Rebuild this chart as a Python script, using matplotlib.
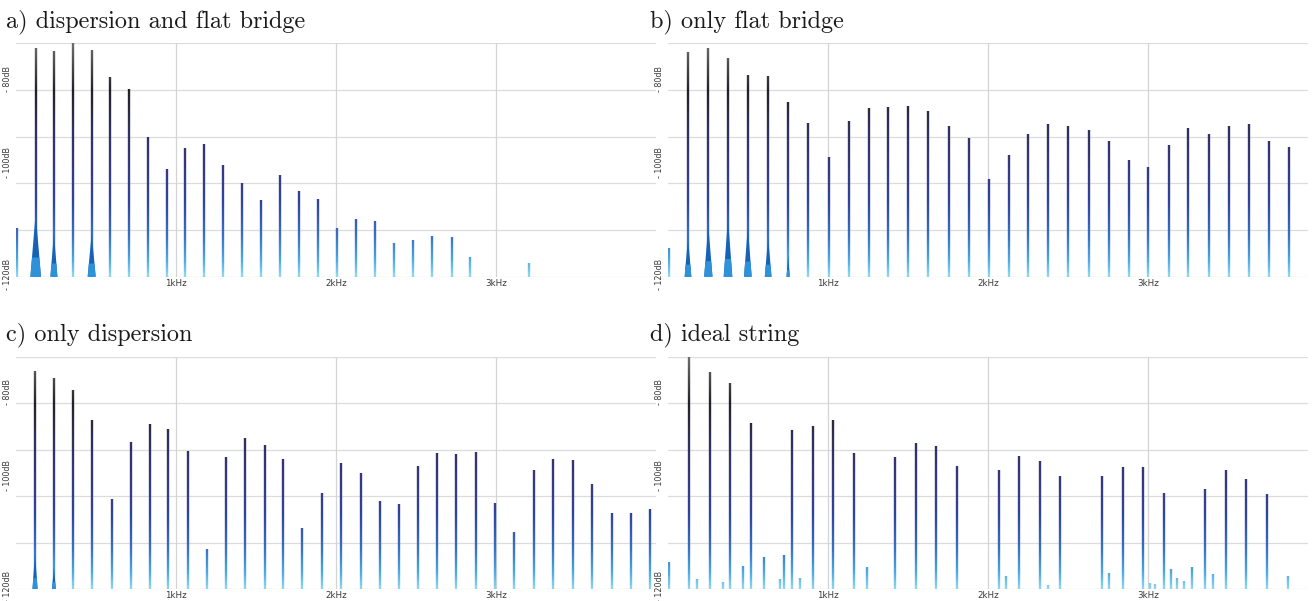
import numpy as np
import matplotlib.pyplot as plt
from matplotlib.collections import LineCollection
from matplotlib.colors import LinearSegmentedColormap, Normalize

# peak frequencies (Hz) and peak levels (dB)
freq_a = [5, 123, 237, 354, 473, 589, 707, 824, 943, 1059, 1178, 1294, 1413, 1531,
          1650, 1768, 1887, 2006, 2127, 2245, 2364, 2483, 2601, 2722, 2840, 3204]
level_a = [-109.5, -71, -71.6, -69, -71.4, -77.3, -79.8, -90, -96.9, -92.4, -91.6, -96,
           -99.9, -103.5, -98.2, -101.7, -103.4, -109.6, -107.6, -108.1, -112.8, -112.1,
           -111.2, -111.5, -115.7, -117.1]

freq_b = [5, 125, 252, 375, 499, 626, 751, 878, 1005, 1130, 1255, 1378, 1503, 1627, 1754,
          1879, 2004, 2131, 2253, 2378, 2503, 2630, 2755, 2880, 3003, 3130, 3252, 3379,
          3504, 3631, 3756, 3881]
level_b = [-113.8, -71.8, -71, -73.2, -76.7, -77, -82.5, -87.1, -94.4, -86.6, -83.9, -83.7,
           -83.5, -84.4, -87.7, -90.3, -99, -93.9, -89.4, -87.3, -87.8, -88.5, -91, -95,
           -96.4, -91.7, -88.2, -89.4, -87.7, -87.2, -91, -92.3]

freq_c = [119, 237, 358, 476, 597, 716, 835, 953, 1076, 1194, 1313, 1434, 1554, 1671,
          1790, 1912, 2033, 2154, 2272, 2393, 2511, 2632, 2753, 2873, 2994, 3115, 3235,
          3358, 3479, 3602, 3722, 3843, 3964]
level_c = [-73, -74.6, -77.1, -83.6, -100.6, -88.4, -84.5, -85.6, -90.3, -111.4, -91.5,
           -87.5, -89, -92, -106.8, -99.4, -92.9, -95, -101, -101.7, -93.6, -90.8, -91,
           -90.5, -101.4, -107.7, -94.3, -92, -92.3, -97.4, -103.5, -103.5, -102.8]

freq_d = [6, 133, 179, 262, 341, 387, 470, 518, 601, 699, 728, 778, 824, 905, 1034, 1163,
          1244, 1421, 1548, 1677, 1808, 2066, 2114, 2193, 2322, 2374, 2451, 2711, 2759,
          2842, 2969, 3015, 3046, 3098, 3146, 3179, 3227, 3273, 3356, 3404, 3485, 3612,
          3741, 3872]
level_d = [-114.2, -69.5, -117.8, -73.2, -118.4, -75.6, -115, -84.2, -113.1, -117.8,
           -112.6, -85.7, -117.5, -85, -83.6, -90.8, -115.1, -91.6, -88.5, -89.2, -93.6,
           -94.3, -117.1, -91.3, -92.4, -119, -95.6, -95.6, -116.6, -93.8, -93.8, -118.6,
           -118.9, -99.4, -115.7, -117.6, -118.2, -115.3, -98.5, -116.7, -94.3, -96.3,
           -99.5, -117.1]

# spectral "skirts" at the base of the strongest low partials: centre Hz, apex dB, half width Hz
skirt_a = [(123, -106.3, 33), (237, -110.6, 22), (473, -110.6, 25)]
skirt_b = [(125, -111.4, 21), (252, -108.9, 26), (375, -107.4, 27), (499, -109.2, 24),
           (626, -111.4, 21), (751, -115.3, 10)]
skirt_c = [(119, -112, 16), (237, -115, 12)]
skirt_d = []

titles = ["a) dispersion and flat bridge", "b) only flat bridge",
          "c) only dispersion", "d) ideal string"]

W, H = 1313, 601
fig = plt.figure(figsize=(W / 100, H / 100), dpi=100)

cmap = LinearSegmentedColormap.from_list("spec", [
    (0.00, "#92d6f2"),
    (0.07, "#4eaae2"),
    (0.17, "#3a72c6"),
    (0.32, "#30449c"),
    (0.48, "#37377e"),
    (0.64, "#30305a"),
    (0.80, "#22222a"),
    (1.00, "#6c6c6c"),
])
norm = Normalize(-120, -70)


def add_axes(x0, y0, x1, y1):
    return fig.add_axes([x0 / W, 1 - y1 / H, (x1 - x0) / W, (y1 - y0) / H])


def draw_panel(ax, freqs, levels, skirts):
    ax.set_xlim(0, 4000)
    ax.set_ylim(-120, -70)
    for s in ax.spines.values():
        s.set_visible(False)
    for v in [-120, -110, -100, -90, -80, -70]:
        ax.axhline(v, color="#dcdcdc", lw=0.9, zorder=0)
    for f in [1000, 2000, 3000]:
        ax.axvline(f, color="#d4d4d4", lw=0.9, zorder=0)

    segs, cols = [], []
    for f, lv in zip(freqs, levels):
        top = min(lv, -69.5)
        edges = np.linspace(-120, top, int((top + 120) * 2) + 2)
        for y0, y1 in zip(edges[:-1], edges[1:]):
            segs.append([(f, y0), (f, y1)])
            cols.append(cmap(norm((y0 + y1) / 2)))
    lc = LineCollection(segs, colors=cols, linewidths=1.7, capstyle="butt", zorder=2)
    ax.add_collection(lc)

    for f, apex, hw in skirts:
        ax.fill([f - hw, f + hw, f], [-120, -120, apex], color="#1562b6", lw=0, zorder=3)
        k = 0.3
        ym = -120 + k * (apex + 120)
        ax.fill([f - hw, f + hw, f + hw * (1 - k), f - hw * (1 - k)],
                [-120, -120, ym, ym], color="#2e92da", lw=0, zorder=3)

    ax.set_xticks([1000, 2000, 3000], ["1kHz", "2kHz", "3kHz"])
    ax.set_yticks([])
    ax.tick_params(axis="x", length=0, pad=1.5, labelsize=6.3, labelcolor="#3a3a3a")
    for lab, yy in [("- 80dB", -80.4), ("- 100dB", -98.8), ("- 120dB", -122.8)]:
        ax.text(-0.0125, yy, lab, transform=ax.get_yaxis_transform(), rotation=90,
                rotation_mode="anchor", ha="left", va="center", fontsize=5.8,
                color="#3a3a3a", clip_on=False)


boxes = [(16, 43.3, 656, 276.7), (668, 43.3, 1308, 276.7),
         (16, 356.7, 656, 589.3), (668, 356.7, 1308, 589.3)]
data = [(freq_a, level_a, skirt_a), (freq_b, level_b, skirt_b),
        (freq_c, level_c, skirt_c), (freq_d, level_d, skirt_d)]
title_pos = [(6, 27.5), (650, 27.5), (6, 340.5), (650, 340.5)]

for box, (fr, lv, sk), title, (tx, ty) in zip(boxes, data, titles, title_pos):
    ax = add_axes(*box)
    draw_panel(ax, fr, lv, sk)
    fig.text(tx / W, 1 - ty / H, title, fontfamily=["cmr10", "DejaVu Serif"],
             fontsize=17.5, va="baseline", ha="left", color="#1a1a1a")

fig.savefig("out.png", dpi=100)
